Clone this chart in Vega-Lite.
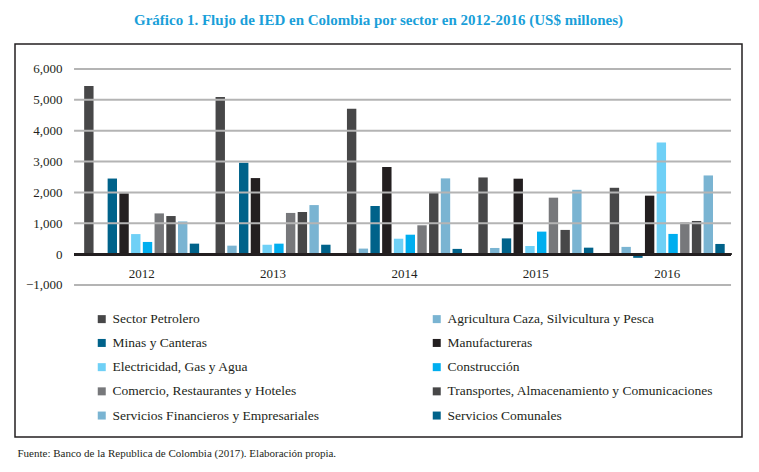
{
  "$schema": "https://vega.github.io/schema/vega-lite/v6.json",
  "autosize": {"type": "none"},
  "width": 727,
  "height": 393,
  "padding": {"left": 15, "top": 44, "right": 17, "bottom": 35},
  "background": "white",
  "config": {
    "view": {"stroke": "#231f20", "strokeWidth": 1.5},
    "font": "Liberation Serif",
    "axis": {"labelFont": "Liberation Serif", "titleFont": "Liberation Serif"},
    "legend": {"labelFont": "Liberation Serif"}
  },
  "title": {
    "text": "Gráfico 1. Flujo de IED en Colombia por sector en 2012-2016 (US$ millones)",
    "font": "Liberation Serif",
    "fontSize": 15,
    "fontWeight": "bold",
    "color": "#1a9fd9",
    "anchor": "middle",
    "offset": 16
  },
  "data": {
    "values": [
      {"anio": "2012", "sector": "Sector Petrolero", "valor": 5450},
      {"anio": "2012", "sector": "Agricultura Caza, Silvicultura y Pesca", "valor": 0},
      {"anio": "2012", "sector": "Minas y Canteras", "valor": 2450},
      {"anio": "2012", "sector": "Manufactureras", "valor": 1970},
      {"anio": "2012", "sector": "Electricidad, Gas y Agua", "valor": 650},
      {"anio": "2012", "sector": "Construcción", "valor": 395},
      {"anio": "2012", "sector": "Comercio, Restaurantes y Hoteles", "valor": 1320},
      {"anio": "2012", "sector": "Transportes, Almacenamiento y Comunicaciones", "valor": 1235},
      {"anio": "2012", "sector": "Servicios Financieros y Empresariales", "valor": 1060},
      {"anio": "2012", "sector": "Servicios Comunales", "valor": 340},
      {"anio": "2013", "sector": "Sector Petrolero", "valor": 5090},
      {"anio": "2013", "sector": "Agricultura Caza, Silvicultura y Pesca", "valor": 275},
      {"anio": "2013", "sector": "Minas y Canteras", "valor": 2960},
      {"anio": "2013", "sector": "Manufactureras", "valor": 2465},
      {"anio": "2013", "sector": "Electricidad, Gas y Agua", "valor": 305},
      {"anio": "2013", "sector": "Construcción", "valor": 340},
      {"anio": "2013", "sector": "Comercio, Restaurantes y Hoteles", "valor": 1335},
      {"anio": "2013", "sector": "Transportes, Almacenamiento y Comunicaciones", "valor": 1365},
      {"anio": "2013", "sector": "Servicios Financieros y Empresariales", "valor": 1590},
      {"anio": "2013", "sector": "Servicios Comunales", "valor": 305},
      {"anio": "2014", "sector": "Sector Petrolero", "valor": 4710},
      {"anio": "2014", "sector": "Agricultura Caza, Silvicultura y Pesca", "valor": 180},
      {"anio": "2014", "sector": "Minas y Canteras", "valor": 1560},
      {"anio": "2014", "sector": "Manufactureras", "valor": 2820},
      {"anio": "2014", "sector": "Electricidad, Gas y Agua", "valor": 500},
      {"anio": "2014", "sector": "Construcción", "valor": 630},
      {"anio": "2014", "sector": "Comercio, Restaurantes y Hoteles", "valor": 935},
      {"anio": "2014", "sector": "Transportes, Almacenamiento y Comunicaciones", "valor": 1990},
      {"anio": "2014", "sector": "Servicios Financieros y Empresariales", "valor": 2455},
      {"anio": "2014", "sector": "Servicios Comunales", "valor": 170},
      {"anio": "2015", "sector": "Sector Petrolero", "valor": 2485},
      {"anio": "2015", "sector": "Agricultura Caza, Silvicultura y Pesca", "valor": 200},
      {"anio": "2015", "sector": "Minas y Canteras", "valor": 510},
      {"anio": "2015", "sector": "Manufactureras", "valor": 2445},
      {"anio": "2015", "sector": "Electricidad, Gas y Agua", "valor": 265},
      {"anio": "2015", "sector": "Construcción", "valor": 730},
      {"anio": "2015", "sector": "Comercio, Restaurantes y Hoteles", "valor": 1830},
      {"anio": "2015", "sector": "Transportes, Almacenamiento y Comunicaciones", "valor": 785},
      {"anio": "2015", "sector": "Servicios Financieros y Empresariales", "valor": 2085},
      {"anio": "2015", "sector": "Servicios Comunales", "valor": 210},
      {"anio": "2016", "sector": "Sector Petrolero", "valor": 2150},
      {"anio": "2016", "sector": "Agricultura Caza, Silvicultura y Pesca", "valor": 235},
      {"anio": "2016", "sector": "Minas y Canteras", "valor": -120},
      {"anio": "2016", "sector": "Manufactureras", "valor": 1895},
      {"anio": "2016", "sector": "Electricidad, Gas y Agua", "valor": 3620},
      {"anio": "2016", "sector": "Construcción", "valor": 655},
      {"anio": "2016", "sector": "Comercio, Restaurantes y Hoteles", "valor": 1030},
      {"anio": "2016", "sector": "Transportes, Almacenamiento y Comunicaciones", "valor": 1075},
      {"anio": "2016", "sector": "Servicios Financieros y Empresariales", "valor": 2550},
      {"anio": "2016", "sector": "Servicios Comunales", "valor": 330}
    ]
  },
  "layer": [
    {
      "mark": {"type": "bar"},
      "encoding": {
        "x": {
          "field": "anio", "type": "nominal",
          "scale": {"paddingInner": 0.125, "paddingOuter": 0.329, "align": 0.8},
          "axis": {
            "orient": "bottom", "offset": -183, "domain": false, "ticks": false, "tickSize": 0,
            "labelAngle": 0, "labelPadding": 13, "labelFont": "Liberation Serif", "labelFontSize": 13, "labelColor": "#231f20",
            "title": "Fuente: Banco de la Republica de Colombia (2017). Elaboración propia.",
            "titleFont": "Liberation Serif", "titleFontSize": 11, "titleFontWeight": "normal", "titleColor": "#231f20",
            "titleAnchor": null, "titleAlign": "left", "titleBaseline": "middle", "titleX": 2, "titleY": 199
          }
        },
        "xOffset": {
          "field": "sector", "type": "nominal",
          "sort": ["Sector Petrolero", "Agricultura Caza, Silvicultura y Pesca", "Minas y Canteras", "Manufactureras", "Electricidad, Gas y Agua", "Construcción", "Comercio, Restaurantes y Hoteles", "Transportes, Almacenamiento y Comunicaciones", "Servicios Financieros y Empresariales", "Servicios Comunales"],
          "scale": {"paddingInner": 0.2, "paddingOuter": 0}
        },
        "y": {
          "field": "valor", "type": "quantitative",
          "scale": {"domain": [-5926, 6810], "nice": false, "zero": false},
          "axis": {
            "orient": "left", "offset": -59, "values": [-1000, 0, 1000, 2000, 3000, 4000, 5000, 6000],
            "labelExpr": "format(datum.value, ',')", "grid": false, "domain": false, "ticks": false, "tickSize": 0, "labelPadding": 12,
            "labelFont": "Liberation Serif", "labelFontSize": 13, "labelColor": "#231f20", "title": null
          }
        },
        "color": {
          "field": "sector", "type": "nominal",
          "scale": {
            "domain": ["Sector Petrolero", "Minas y Canteras", "Electricidad, Gas y Agua", "Comercio, Restaurantes y Hoteles", "Servicios Financieros y Empresariales", "Agricultura Caza, Silvicultura y Pesca", "Manufactureras", "Construcción", "Transportes, Almacenamiento y Comunicaciones", "Servicios Comunales"],
            "range": ["#474748", "#00628a", "#6fd0f6", "#77787b", "#7ab4d2", "#7ab4d2", "#231f20", "#00aeef", "#474748", "#00628a"]
          },
          "legend": {
            "orient": "none", "legendX": 80, "legendY": 268, "columns": 2, "columnPadding": 110,
            "title": null, "symbolType": "square", "symbolSize": 64, "symbolStrokeWidth": 0,
            "labelFont": "Liberation Serif", "labelFontSize": 13.5, "labelColor": "#231f20", "labelOffset": 4,
            "rowPadding": 9.2, "padding": 0, "labelLimit": 400
          }
        }
      }
    },
    {
      "data": {"values": [{"g": -1000}, {"g": 1000}, {"g": 2000}, {"g": 3000}, {"g": 4000}, {"g": 5000}, {"g": 6000}]},
      "mark": {"type": "rule", "color": "#b4b4b4", "strokeWidth": 2},
      "encoding": {
        "y": {"field": "g", "type": "quantitative"},
        "x": {"datum": "2012", "type": "nominal", "bandPosition": -0.088},
        "x2": {"datum": "2016", "bandPosition": 1.055}
      }
    },
    {
      "mark": {"type": "rule", "color": "#231f20", "strokeWidth": 2.5},
      "encoding": {
        "y": {"datum": 0, "type": "quantitative"},
        "x": {"datum": "2012", "type": "nominal", "bandPosition": -0.088},
        "x2": {"datum": "2016", "bandPosition": 1.055}
      }
    }
  ]
}
